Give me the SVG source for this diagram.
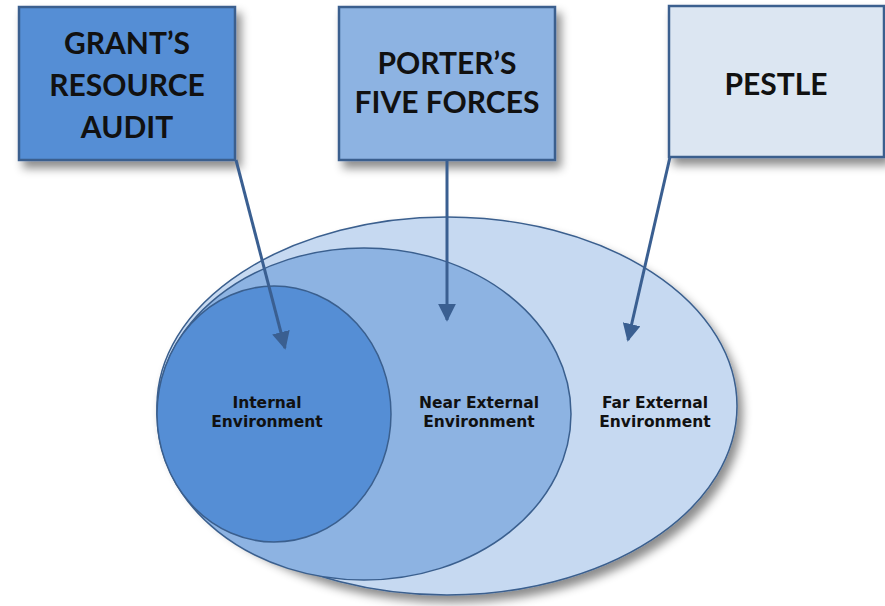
<svg xmlns="http://www.w3.org/2000/svg" width="885" height="606" viewBox="0 0 885 606">
<defs>
<filter id="sh" x="-20%" y="-20%" width="150%" height="150%">
<feDropShadow dx="5" dy="7" stdDeviation="5" flood-color="#000" flood-opacity="0.45"/>
</filter>
<marker id="ah" viewBox="0 0 10 10" refX="9" refY="5" markerWidth="6" markerHeight="6" orient="auto" markerUnits="strokeWidth">
<path d="M0,0 L10,5 L0,10 Z" fill="#3A5F91"/>
</marker>
<style>
.box{stroke:#3A5F8E;stroke-width:2.5;filter:url(#sh)}
.bt{font-family:Lato,"Open Sans","Liberation Sans",sans-serif;font-weight:bold;font-size:30px;fill:#111;text-anchor:middle}
.el{stroke:#3A5F8E;stroke-width:1.5}
.et{font-family:"DejaVu Sans",Verdana,sans-serif;font-weight:bold;font-size:15.5px;fill:#111;text-anchor:middle}
.cn{stroke:#3A5F91;stroke-width:3;fill:none;marker-end:url(#ah)}
</style>
</defs>
<rect width="885" height="606" fill="#fff"/>
<g id="far">
<ellipse class="el" cx="447" cy="406" rx="290" ry="189" fill="#C6D9F1" filter="url(#sh)"/>
<text class="et" x="655" y="408">Far External</text>
<text class="et" x="655" y="427">Environment</text>
</g>
<g id="near">
<ellipse class="el" cx="364" cy="414" rx="207" ry="166" fill="#8DB3E2"/>
<text class="et" x="479" y="408">Near External</text>
<text class="et" x="479" y="427">Environment</text>
</g>
<g id="internal">
<ellipse class="el" cx="274" cy="414" rx="117" ry="128" fill="#558ED5"/>
<text class="et" x="267" y="408">Internal</text>
<text class="et" x="267" y="427">Environment</text>
</g>
<g id="grant">
<rect class="box" x="19" y="7" width="216" height="153" fill="#558ED5"/>
<text class="bt" x="127" y="54">GRANT’S</text>
<text class="bt" x="127" y="96">RESOURCE</text>
<text class="bt" x="127" y="138">AUDIT</text>
</g>
<g id="porter">
<rect class="box" x="339" y="7" width="216" height="153" fill="#8DB3E2"/>
<text class="bt" x="447" y="74">PORTER’S</text>
<text class="bt" x="447" y="113">FIVE FORCES</text>
</g>
<g id="pestle">
<rect class="box" x="669" y="6" width="215" height="151" fill="#DCE6F2"/>
<text class="bt" x="776" y="95">PESTLE</text>
</g>
<g id="connectors">
<line class="cn" x1="236" y1="160" x2="285" y2="348"/>
<line class="cn" x1="447" y1="160" x2="447" y2="320"/>
<line class="cn" x1="670" y1="157" x2="628" y2="340"/>
</g>
</svg>
